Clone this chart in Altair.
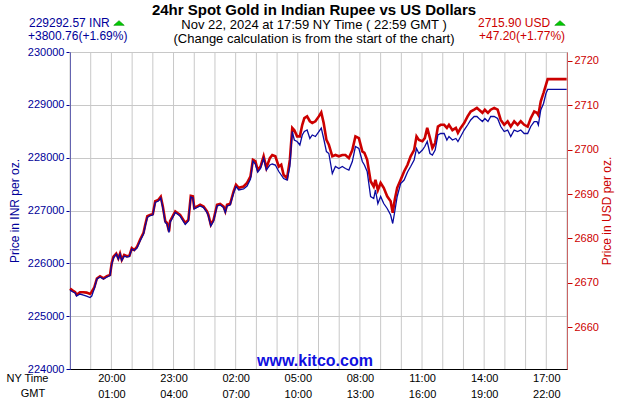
import altair as alt
import pandas as pd

# minutes elapsed since 18:00 NY time (Nov 21)
minutes = [0, 9, 15, 19, 29, 39, 48, 58, 63, 70, 78, 87, 97, 107, 116, 121, 126, 134, 140, 145,
           150, 157, 165, 172, 179, 186, 194, 203, 213, 218, 224, 232, 240, 247, 256, 263, 269, 276, 281, 287,
           290, 305, 319, 334, 343, 350, 356, 360, 368, 377, 387, 397, 401, 408, 416, 426, 435, 445, 450, 455,
           464, 474, 481, 489, 503, 513, 523, 530, 537, 544, 552, 561, 569, 579, 586, 595, 605, 612, 619, 629,
           637, 644, 650, 658, 666, 673, 679, 687, 695, 702, 711, 721, 728, 735, 743, 750, 760, 769, 779, 789,
           798, 808, 818, 827, 837, 847, 853, 861, 871, 880, 885, 892, 900, 909, 919, 929, 935, 941, 948, 958,
           968, 978, 987, 997, 1004, 1011, 1021, 1028, 1035, 1043, 1050, 1058, 1066, 1074, 1084, 1092, 1098, 1108, 1118, 1124,
           1132, 1142, 1152, 1161, 1171, 1179, 1185, 1195, 1202, 1211, 1219, 1229, 1239, 1248, 1258, 1268, 1277, 1287, 1297, 1306,
           1316, 1326, 1335, 1345, 1353, 1357, 1364, 1372, 1379, 1384, 1439]

inr = [225492, 225457, 225438, 225381, 225419, 225400, 225381, 225353, 225381, 225514,
       225703, 225741, 225703, 225741, 225769, 225987, 226100, 226176, 226081, 226176,
       226053, 226138, 226119, 226129, 226271, 226242, 226290, 226422, 226555, 226706,
       226867, 226905, 226914, 227151, 227179, 227236, 227047, 226772, 226744, 226583,
       226772, 226962, 226895, 226735, 226801, 227255, 227236, 227028, 227056, 227085,
       227056, 226962, 226895, 226706, 226801, 227085, 227104, 227056, 226962, 227085,
       227104, 227331, 227454, 227388, 227407, 227463, 227596, 227937, 227880, 227728,
       227795, 227984, 227766, 227861, 227880, 227861, 227738, 227672, 227605, 227577,
       227833, 228495, 228334, 228306, 228240, 228429, 228495, 228523, 228363, 228429,
       228400, 228495, 228561, 228363, 228116, 228079, 227700, 227833, 227795, 227833,
       227795, 227766, 227927, 228211, 228173, 227927, 227861, 227738, 227265, 227227,
       227388, 227132, 227265, 227132, 227038, 226914, 226754, 226981, 227265, 227511,
       227577, 227728, 227833, 227956, 228173, 228079, 228145, 228211, 228306, 228079,
       228050, 228145, 228429, 228457, 228457, 228334, 228400, 228334, 228363, 228306,
       228400, 228523, 228618, 228713, 228779, 228779, 228741, 228684, 228741, 228684,
       228779, 228779, 228741, 228590, 228495, 228523, 228400, 228523, 228495, 228523,
       228457, 228457, 228590, 228684, 228684, 228618, 228902, 229025, 229214, 229292.57,
       229292.57]

usd = [2668.7, 2668.2, 2667.9, 2667.3, 2667.9, 2667.9, 2667.8, 2667.5, 2668.0, 2668.9,
       2671.0, 2671.5, 2671.0, 2671.5, 2671.8, 2674.5, 2675.9, 2676.6, 2675.5, 2676.6,
       2675.2, 2676.3, 2676.0, 2676.1, 2677.8, 2677.4, 2678.1, 2679.7, 2681.3, 2683.1,
       2685.0, 2685.3, 2685.5, 2688.4, 2688.7, 2689.4, 2687.2, 2683.9, 2683.5, 2681.6,
       2683.9, 2686.1, 2685.3, 2683.5, 2684.2, 2689.6, 2689.5, 2686.9, 2687.2, 2687.6,
       2687.2, 2686.1, 2685.3, 2683.1, 2684.2, 2687.6, 2687.8, 2687.2, 2686.1, 2687.6,
       2687.8, 2690.6, 2692.1, 2691.4, 2691.7, 2692.5, 2694.0, 2697.7, 2697.4, 2695.4,
       2696.2, 2698.5, 2695.9, 2698.1, 2698.8, 2698.5, 2696.2, 2696.6, 2694.3, 2693.6,
       2697.7, 2704.9, 2704.4, 2703.0, 2703.0, 2705.6, 2707.1, 2707.5, 2706.4, 2706.0,
       2706.4, 2707.5, 2708.4, 2706.0, 2702.2, 2701.1, 2698.5, 2698.8, 2698.5, 2698.8,
       2698.8, 2698.1, 2699.9, 2703.0, 2702.6, 2699.6, 2699.3, 2697.7, 2692.9, 2691.7,
       2693.2, 2690.9, 2692.5, 2691.4, 2689.5, 2688.4, 2685.8, 2688.7, 2691.4, 2693.2,
       2695.1, 2696.6, 2698.5, 2699.9, 2703.0, 2702.2, 2701.9, 2702.6, 2704.9, 2702.6,
       2700.4, 2701.5, 2705.2, 2705.6, 2705.6, 2704.9, 2705.6, 2704.4, 2704.9, 2703.8,
       2704.9, 2706.0, 2707.5, 2708.6, 2709.0, 2709.4, 2709.0, 2708.3, 2709.0, 2708.3,
       2709.0, 2709.4, 2709.0, 2706.7, 2705.6, 2706.4, 2705.2, 2706.4, 2705.6, 2706.4,
       2705.6, 2705.2, 2707.1, 2708.6, 2708.3, 2707.8, 2710.9, 2712.8, 2714.6, 2715.9,
       2715.9]

inr_ticks = [224000, 225000, 226000, 227000, 228000, 229000, 230000]
usd_ticks = [2660, 2670, 2680, 2690, 2700, 2710, 2720]
hour_ticks = list(range(0, 1441, 60))          # hourly grid lines
label_ticks = list(range(120, 1441, 180))      # labelled every 3 hours (20:00 NY ...)

title_text = "24hr Spot Gold in Indian Rupee vs US Dollars"
sub1 = "Nov 22, 2024 at 17:59 NY Time ( 22:59 GMT )"
sub2 = "(Change calculation is from the start of the chart)"
inr_last = "229292.57 INR"
inr_change = "+3800.76(+1.69%)"
usd_last = "2715.90 USD"
usd_change = "+47.20(+1.77%)"

FONT = "Liberation Sans"
BLUE = "#000099"
LINE_BLUE = "#0a0aa0"
RED = "#cc0000"
GRID = "#c8c8c8"

df = pd.DataFrame({"m": minutes, "inr": inr, "usd": usd})

x_scale = alt.Scale(domain=[0, 1440], nice=False, zero=False)

x_axis = alt.Axis(
    values=label_ticks, grid=False, ticks=False,
    domainColor="black", domainWidth=1, labelColor="black", labelFont=FONT,
    labelFontSize=11, labelPadding=3, labelLineHeight=16, labelOverlap=False,
    labelFlush=False, title=None,
    labelExpr=("["
               "(((18+datum.value/60)%24) < 10 ? '0' : '') + ((18+datum.value/60)%24) + ':00', "
               "(((23+datum.value/60)%24) < 10 ? '0' : '') + ((23+datum.value/60)%24) + ':00']"),
)

grid_rules = alt.Chart(pd.DataFrame({"m": hour_ticks})).mark_rule(
    color=GRID, strokeWidth=1
).encode(x=alt.X("m:Q", scale=x_scale, axis=x_axis))

red_line = alt.Chart(df).mark_line(color=RED, strokeWidth=2.6).encode(
    x=alt.X("m:Q", scale=x_scale),
    y=alt.Y(
        "usd:Q",
        scale=alt.Scale(domain=[2650.6, 2722.0], nice=False, zero=False),
        axis=alt.Axis(
            orient="right", values=usd_ticks, format="d", grid=False, tickSize=5, tickColor=RED,
            domainColor=RED, domainWidth=1, labelColor=RED, labelFont=FONT, labelFontSize=11,
            labelPadding=2, title="Price in USD per oz.", titleColor=RED, titleFont=FONT,
            titleFontSize=12, titleFontWeight="normal", titleAngle=270, titlePadding=15,
        ),
    ),
)

blue_line = alt.Chart(df).mark_line(color=LINE_BLUE, strokeWidth=1.3).encode(
    x=alt.X("m:Q", scale=x_scale),
    y=alt.Y(
        "inr:Q",
        scale=alt.Scale(domain=[224000, 230000], nice=False, zero=False),
        axis=alt.Axis(
            orient="left", values=inr_ticks, format="d", grid=True, gridColor=GRID,
            tickSize=4, tickColor=BLUE, domainColor=BLUE, domainWidth=1, labelColor=BLUE,
            labelFont=FONT, labelFontSize=11, labelPadding=2, title="Price in INR per oz.",
            titleColor=BLUE, titleFont=FONT, titleFontSize=12, titleFontWeight="normal",
            titlePadding=6,
        ),
    ),
)


def txt(text, x, y, size, color, weight="normal", align="left", baseline="alphabetic"):
    return alt.Chart(pd.DataFrame({"t": [text]})).mark_text(
        align=align, baseline=baseline, font=FONT, fontSize=size, fontWeight=weight, color=color
    ).encode(x=alt.value(x), y=alt.value(y), text="t:N")


def tri(x, y):
    return alt.Chart(pd.DataFrame({"t": [1]})).mark_point(
        shape="M-1,0.45L1,0.45L0,-0.45Z", size=110, filled=True, fill="#00cc00",
        stroke="#008800", strokeWidth=0.6, opacity=1
    ).encode(x=alt.value(x), y=alt.value(y))


texts = [
    txt(title_text, 244, -37, 15, "black", weight="bold", align="center"),
    txt(sub1, 244, -23, 13, "black", align="center"),
    txt(sub2, 244, -9, 13, "black", align="center"),
    txt(inr_last, -41, -25, 12, BLUE),
    txt(inr_change, -42, -12, 12, BLUE),
    txt(usd_last, 408, -25, 12, RED),
    txt(usd_change, 409, -12, 12, RED),
    tri(49, -29),
    tri(490, -29),
    txt("www.kitco.com", 245, 314, 16, "#1010e0", weight="bold", align="center"),
    txt("NY Time", -42.5, 327, 11, "black", align="center", baseline="middle"),
    txt("GMT", -37, 342, 11, "black", align="center", baseline="middle"),
]

chart = alt.layer(grid_rules, red_line, blue_line, *texts).resolve_scale(y="independent").properties(
    width=497, height=317,
    autosize=alt.AutoSizeParams(type="none"),
    padding={"left": 70, "top": 52, "right": 63, "bottom": 31},
    background="white",
).configure_view(stroke=GRID, strokeWidth=1)

chart.save("out.html", embed_options={"renderer": "svg", "actions": False})
